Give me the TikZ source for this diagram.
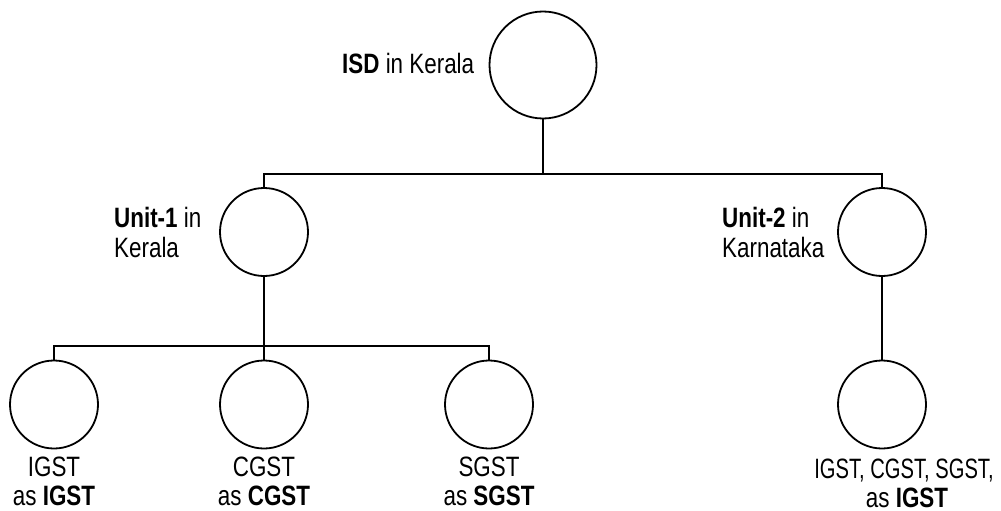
\documentclass[tikz,border=0pt]{standalone}
\usepackage{fontspec}
\setmainfont[FakeStretch=0.80]{Liberation Sans}
\newfontfamily\narrowfont[FakeStretch=0.72]{Liberation Sans}
\begin{document}
\begin{tikzpicture}[x=1pt,y=-1pt,
  bigc/.style={circle,draw,line width=1.8pt,minimum size=107pt,inner sep=0pt},
  smc/.style={circle,draw,line width=1.8pt,minimum size=88pt,inner sep=0pt},
  lbl/.style={inner sep=0pt,font=\fontsize{28}{30}\selectfont},
  conn/.style={line width=1.8pt}]
\useasboundingbox (0,0) rectangle (1001,511);
% nodes
\node[bigc] (isd) at (543,65) {};
\node[smc] (u1) at (264,232) {};
\node[smc] (u2) at (882,232) {};
\node[smc] (c1) at (54,404.5) {};
\node[smc] (c2) at (264,404.5) {};
\node[smc] (c3) at (489,404.5) {};
\node[smc] (c4) at (882,404.5) {};
% labels
\node[lbl,anchor=base west] (lisd) at (342,74) {\textbf{ISD} in Kerala};
\node[lbl,anchor=base west] (lu1a) at (114,227) {\textbf{Unit-1} in};
\node[lbl,anchor=base west] (lu1b) at (114,257) {Kerala};
\node[lbl,anchor=base west] (lu2a) at (722,227) {\textbf{Unit-2} in};
\node[lbl,anchor=base west] (lu2b) at (722,257) {Karnataka};
\node[lbl,anchor=base] (l1a) at (54,476) {IGST};
\node[lbl,anchor=base] (l1b) at (54,505) {as \textbf{IGST}};
\node[lbl,anchor=base] (l2a) at (264,476) {CGST};
\node[lbl,anchor=base] (l2b) at (264,505) {as \textbf{CGST}};
\node[lbl,anchor=base] (l3a) at (489,476) {SGST};
\node[lbl,anchor=base] (l3b) at (489,505) {as \textbf{SGST}};
\node[lbl,anchor=base,font=\fontsize{28}{30}\narrowfont] (l4a) at (904,478) {IGST, CGST, SGST,};
\node[lbl,anchor=base] (l4b) at (907,507) {as \textbf{IGST}};
% connectors
\coordinate (j1) at (543,174);
\coordinate (j2) at (264,346);
\draw[conn] (isd.south) -- (j1);
\draw[conn] (u1.north) |- (j1) -| (u2.north);
\draw[conn] (u1.south) -- (j2);
\draw[conn] (c1.north) |- (j2) -| (c3.north);
\draw[conn] (j2) -- (c2.north);
\draw[conn] (u2.south) -- (c4.north);
\end{tikzpicture}
\end{document}
